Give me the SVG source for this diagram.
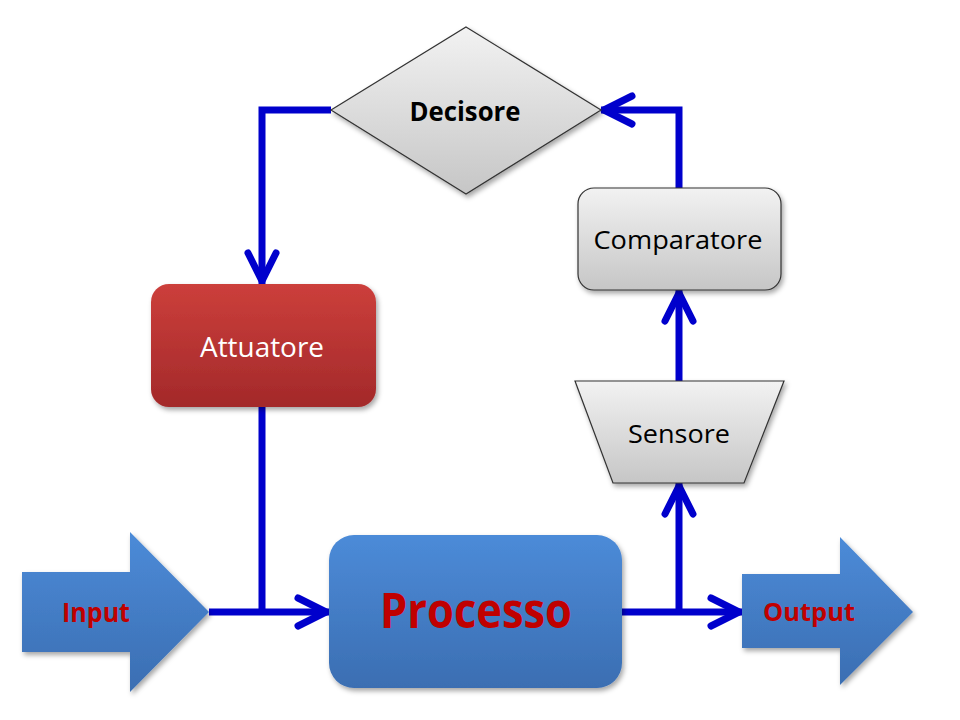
<svg xmlns="http://www.w3.org/2000/svg" width="960" height="720" viewBox="0 0 960 720">
<defs>
<linearGradient id="gBlue" x1="0" y1="0" x2="0" y2="1"><stop offset="0" stop-color="#4C8BD8"/><stop offset="1" stop-color="#3B6EB2"/></linearGradient>
<linearGradient id="gRed" x1="0" y1="0" x2="0" y2="1"><stop offset="0" stop-color="#CC3F3B"/><stop offset="1" stop-color="#A3292A"/></linearGradient>
<linearGradient id="gGray" x1="0" y1="0" x2="0" y2="1"><stop offset="0" stop-color="#F2F2F2"/><stop offset="1" stop-color="#C6C6C6"/></linearGradient>
<filter id="sh" x="-10%" y="-10%" width="125%" height="130%"><feDropShadow dx="2" dy="3" stdDeviation="2.5" flood-color="#000" flood-opacity="0.35"/></filter>
<marker id="ah" markerUnits="userSpaceOnUse" viewBox="-40 -22 50 44" markerWidth="50" markerHeight="44" refX="0" refY="0" orient="auto" overflow="visible">
<path d="M-31,-14 L-3,0 L-31,14" fill="none" stroke="#0000CC" stroke-width="7" stroke-linecap="round" stroke-linejoin="round"/>
</marker>
<style>
.lbl{font-family:"Open Sans","Liberation Sans",sans-serif;text-anchor:middle}
.b{font-weight:bold}
.gray{fill:url(#gGray);stroke:#333;stroke-width:1.2}
.conn{fill:none;stroke:#0000CC;stroke-width:7;stroke-linejoin:miter}
</style>
</defs>
<rect width="960" height="720" fill="#fff"/>
<g id="connectors">
<path class="conn" d="M331,110 H262 V284" marker-end="url(#ah)"/>
<path class="conn" d="M679,188 V110 H601" marker-end="url(#ah)"/>
<path class="conn" d="M679,381 V290" marker-end="url(#ah)"/>
<path class="conn" d="M679,612 V483" marker-end="url(#ah)"/>
<path class="conn" d="M622,612 H742" marker-end="url(#ah)"/>
<path class="conn" d="M209,612 H329" marker-end="url(#ah)"/>
<path class="conn" d="M262,407 V612"/>
</g>
<g id="decisore">
<polygon class="gray" points="466,27 601,110 466,194 331,110" filter="url(#sh)"/>
<text class="lbl b" x="465" y="121" font-size="26" textLength="111" lengthAdjust="spacingAndGlyphs" fill="#000">Decisore</text>
</g>
<g id="comparatore">
<rect class="gray" x="578" y="188" width="203" height="102" rx="16" filter="url(#sh)"/>
<text class="lbl" x="678" y="249" font-size="25" textLength="169" lengthAdjust="spacingAndGlyphs" fill="#000">Comparatore</text>
</g>
<g id="sensore">
<polygon class="gray" points="575,381 784,381 744,483 613,483" filter="url(#sh)"/>
<text class="lbl" x="679" y="443" font-size="26" textLength="102" lengthAdjust="spacingAndGlyphs" fill="#000">Sensore</text>
</g>
<g id="attuatore">
<rect x="151" y="284" width="225" height="123" rx="18" fill="url(#gRed)" filter="url(#sh)"/>
<text class="lbl" x="262" y="357" font-size="27" textLength="124" lengthAdjust="spacingAndGlyphs" fill="#fff">Attuatore</text>
</g>
<g id="processo">
<rect x="329" y="535" width="293" height="153" rx="25" fill="url(#gBlue)" filter="url(#sh)"/>
<text class="lbl b" x="476" y="628" font-size="49" textLength="192" lengthAdjust="spacingAndGlyphs" fill="#C00000">Processo</text>
</g>
<g id="input">
<polygon points="22,572 130,572 130,532 209,612 130,692 130,652 22,652" fill="url(#gBlue)" filter="url(#sh)"/>
<text class="lbl b" x="96" y="622" font-size="26" textLength="68" lengthAdjust="spacingAndGlyphs" fill="#C00000">Input</text>
</g>
<g id="output">
<polygon points="742,574 840,574 840,537 913,612 840,685 840,648 742,648" fill="url(#gBlue)" filter="url(#sh)"/>
<text class="lbl b" x="809" y="621" font-size="25" textLength="92" lengthAdjust="spacingAndGlyphs" fill="#C00000">Output</text>
</g>
</svg>
